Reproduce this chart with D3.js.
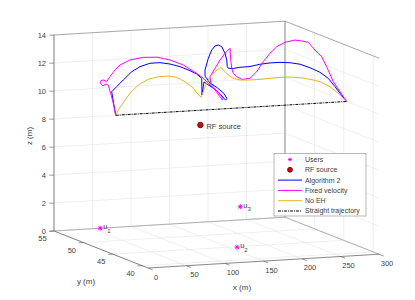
<!DOCTYPE html>
<html>
<head>
<meta charset="utf-8">
<script src="https://d3js.org/d3.v7.min.js"></script>
<style>
  body { margin: 0; background: #fff; }
  text { font-family: "Liberation Sans", Arial, sans-serif; fill: #404040; }
</style>
</head>
<body>
<svg width="415" height="300"></svg>
<script>
// axis ticks
const xTicks = [0, 50, 100, 150, 200, 250, 300];
const yTicks = [40, 45, 50, 55];
const zTicks = [0, 2, 4, 6, 8, 10, 12, 14];

// trajectories (y kept at 44.5 m)
const trajY = 44.5;
const algX = [0, -5.2, 1.3, 9.9, 20.8, 31.6, 44.6, 57.5, 70.5, 83.5, 96.5, 105.2, 111.7, 112.1, 114.7,
  122.5, 131.6, 138.1, 142.6, 144.6, 140.7, 131.6, 122.5, 116, 116, 120.3, 124.7, 129, 133.3, 137.7, 142,
  144.2, 145, 146.2, 152.7, 161.4, 174.4, 187.4, 200.4, 213.4, 226.4, 239.4, 252.3, 265.3, 276.1, 284.8, 291.3, 300];
const algZ = [10, 11.70, 12.04, 12.49, 13.04, 13.37, 13.57, 13.57, 13.43, 13.20, 12.87, 12.60, 12.27, 11.08, 12.0,
  11.69, 11.30, 10.92, 10.62, 10.72, 11.09, 11.55, 11.90, 12.42, 12.85, 13.68, 14.25, 14.53, 14.58, 14.45, 13.96,
  13.48, 12.99, 12.88, 12.84, 12.90, 12.91, 13.03, 13.08, 13.08, 13.01, 12.86, 12.57, 12.20, 11.73, 11.11, 10.61, 10];

const fixX = [0, -3.1, -6.5, -9.6, -12.6, -16.5, -19.7, -19.1, -15.2, -11.9, -7.4, -0.9, 5.6, 18.6, 35.9, 53.3,
  70.5, 87.8, 105.2, 113.8, 120.3, 129, 135.5, 138.5, 139.4, 132.2, 123.8, 122.5, 129, 135.5, 142, 146.2, 148.5,
  149.4, 150.7, 152.7, 157.2, 164, 174.4, 183.1, 191.7, 200.4, 209.1, 219.9, 232.9, 241.6, 250.1, 258.8, 267.5,
  274, 282.6, 291.3, 300];
const fixZ = [10, 10.87, 11.59, 12.19, 12.28, 12.15, 12.33, 12.55, 12.57, 12.42, 12.78, 13.24, 13.57, 13.89, 14.02, 13.97,
  13.72, 13.30, 12.65, 12.27, 11.89, 11.38, 10.88, 10.64, 10.78, 11.26, 11.79, 12.35, 12.93, 13.50, 13.96, 14.18, 14.30,
  13.46, 12.86, 12.50, 12.24, 12.02, 12.07, 12.51, 13.20, 13.77, 14.21, 14.49, 14.61, 14.51, 14.39, 13.81, 13.30,
  12.57, 11.47, 10.73, 10];

const noehX = [0, 3.4, 9.9, 18.6, 29.4, 42.4, 55.3, 68.3, 79.2, 90, 98.7, 105.2, 110.8, 118.2, 122.5, 129, 136.4,
  139.8, 146.2, 152.7, 161.4, 172.2, 187.4, 200.4, 213.4, 226.4, 239.4, 252.3, 265.3, 278.3, 289.1, 300];
const noehZ = [10, 10.37, 10.87, 11.51, 12.07, 12.43, 12.57, 12.58, 12.45, 12.10, 11.72, 11.27, 10.92, 11.90, 12.35, 12.69, 12.98,
  12.78, 12.40, 12.14, 11.99, 11.95, 11.95, 11.98, 12.01, 11.99, 11.90, 11.74, 11.53, 11.13, 10.62, 10];

const straightX = [0, 300];
const straightZ = [10, 10];

// users and RF source
const users = [
  { name: "1", x: 60, y: 55, z: 0 },
  { name: "2", x: 160, y: 44.8, z: 0 },
  { name: "3", x: 242, y: 55, z: 0.94 }
];
const rfSource = { x: 152, y: 50, z: 7.9 };

const legendItems = ["Users", "RF source", "Algorithm 2", "Fixed velocity", "No EH", "Straight trajectory"];

const svg = d3.select("svg");

// simple 3D -> screen projection built on linear scales
const xS = d3.scaleLinear().domain([0, 300]).range([0, 1]);
const yS = d3.scaleLinear().domain([39, 55]).range([0, 1]);
const zS = d3.scaleLinear().domain([0, 14]).range([0, 1]);
const O = [148, 268], EX = [231, -13.8], EY = [-94, -37], EZ = [0, -196];
function proj(x, y, z) {
  const a = xS(x), b = yS(y), c = zS(z);
  return [O[0] + a * EX[0] + b * EY[0] + c * EZ[0], O[1] + a * EX[1] + b * EY[1] + c * EZ[1]];
}
function seg(g, p, q, color, w) {
  const a = proj(...p), b = proj(...q);
  g.append("line").attr("x1", a[0]).attr("y1", a[1]).attr("x2", b[0]).attr("y2", b[1])
    .attr("stroke", color).attr("stroke-width", w);
}

// grid
const grid = svg.append("g");
const gc = "#e4e4e4";
xTicks.forEach(x => { seg(grid, [x, 55, 0], [x, 55, 14], gc, 0.6); seg(grid, [x, 39, 0], [x, 55, 0], gc, 0.6); });
zTicks.forEach(z => { seg(grid, [0, 55, z], [300, 55, z], gc, 0.6); seg(grid, [300, 39, z], [300, 55, z], gc, 0.6); });
yTicks.forEach(y => { seg(grid, [300, y, 0], [300, y, 14], gc, 0.6); seg(grid, [0, y, 0], [300, y, 0], gc, 0.6); });

// box
const box = svg.append("g");
seg(box, [0, 55, 0], [300, 55, 0], "#8a8a8a", 0.6);
seg(box, [300, 55, 0], [300, 39, 0], "#8a8a8a", 0.6);
seg(box, [0, 55, 14], [300, 55, 14], "#7a7a7a", 0.6);
seg(box, [300, 55, 14], [300, 39, 14], "#7a7a7a", 0.6);
seg(box, [300, 55, 0], [300, 55, 14], "#6a6a6a", 0.7);
seg(box, [0, 55, 0], [0, 55, 14], "#555", 0.7);
seg(box, [0, 39, 0], [0, 55, 0], "#555", 0.7);
seg(box, [0, 39, 0], [300, 39, 0], "#555", 0.7);

// ticks and labels
const fs = 7.5;
zTicks.forEach(z => {
  seg(box, [0, 55, z], [-6, 55, z], "#555", 0.6);
  const p = proj(0, 55, z);
  svg.append("text").attr("x", p[0] - 8).attr("y", p[1]).attr("dy", "0.35em")
    .attr("text-anchor", "end").attr("font-size", fs).text(z);
});
yTicks.forEach(y => {
  seg(box, [0, y, 0], [-6, y, 0], "#555", 0.6);
  const p = proj(0, y, 0);
  svg.append("text").attr("x", p[0] - 11.5).attr("y", p[1] + 7.5).attr("dy", "0.35em")
    .attr("text-anchor", "middle").attr("font-size", fs).text(y);
});
xTicks.forEach(x => {
  seg(box, [x, 39, 0], [x, 38.2, 0], "#555", 0.6);
  const p = proj(x, 39, 0);
  svg.append("text").attr("x", p[0] + 8).attr("y", p[1] + 9).attr("dy", "0.35em")
    .attr("text-anchor", "middle").attr("font-size", fs).text(x);
});
svg.append("text").attr("transform", "translate(29,136) rotate(-90)").attr("text-anchor", "middle")
  .attr("dy", "0.35em").attr("font-size", 8).text("z (m)");
svg.append("text").attr("x", 86).attr("y", 281).attr("text-anchor", "middle")
  .attr("dy", "0.35em").attr("font-size", 8).text("y (m)");
svg.append("text").attr("x", 242).attr("y", 287).attr("text-anchor", "middle")
  .attr("dy", "0.35em").attr("font-size", 8).text("x (m)");

// markers
function star(g, cx, cy, r) {
  const s = g.append("g").attr("stroke", "#ff00ff").attr("stroke-width", 1);
  s.append("line").attr("x1", cx - r).attr("y1", cy).attr("x2", cx + r).attr("y2", cy);
  s.append("line").attr("x1", cx).attr("y1", cy - r).attr("x2", cx).attr("y2", cy + r);
  const d = r * 0.72;
  s.append("line").attr("x1", cx - d).attr("y1", cy - d).attr("x2", cx + d).attr("y2", cy + d);
  s.append("line").attr("x1", cx - d).attr("y1", cy + d).attr("x2", cx + d).attr("y2", cy - d);
}
users.forEach(u => {
  const p = proj(u.x, u.y, u.z);
  star(svg, p[0], p[1], 2.4);
  const t = svg.append("text").attr("x", p[0] + 3).attr("y", p[1] + 1).attr("font-size", 7.5).attr("fill", "#222");
  t.append("tspan").text("u");
  t.append("tspan").attr("font-size", 6).attr("dy", 3.5).text(u.name);
});
const rp = proj(rfSource.x, rfSource.y, rfSource.z);
svg.append("circle").attr("cx", rp[0]).attr("cy", rp[1]).attr("r", 2.8)
  .attr("fill", "#e00000").attr("stroke", "#000").attr("stroke-width", 0.6);
svg.append("text").attr("x", rp[0] + 6).attr("y", rp[1] + 1.5).attr("dy", "0.35em")
  .attr("font-size", 7.5).attr("fill", "#222").text("RF source");

// trajectories
function path3(xs, zs, color, dash) {
  const pts = xs.map((x, i) => proj(x, trajY, zs[i]));
  svg.append("path").attr("d", d3.line()(pts)).attr("fill", "none")
    .attr("stroke", color).attr("stroke-width", 1).attr("stroke-linejoin", "round")
    .attr("stroke-dasharray", dash || null);
}
path3(algX, algZ, "#0000ff");
path3(fixX, fixZ, "#ff00ff");
path3(noehX, noehZ, "#edb120");
path3(straightX, straightZ, "#000", "3,1,1,1");

// legend
const lg = svg.append("g");
lg.append("rect").attr("x", 274).attr("y", 153.5).attr("width", 92).attr("height", 62.5)
  .attr("fill", "#fff").attr("stroke", "#8a8a8a").attr("stroke-width", 0.6);
const ly = d3.scalePoint().domain(legendItems).range([159.5, 211]);
const styles = [null, null, ["#0000ff"], ["#ff00ff"], ["#edb120"], ["#000", "3,1,1,1"]];
legendItems.forEach((name, i) => {
  const y = ly(name);
  if (i === 0) star(lg, 290, y, 1.8);
  else if (i === 1) lg.append("circle").attr("cx", 290).attr("cy", y).attr("r", 2.5)
    .attr("fill", "#e00000").attr("stroke", "#000").attr("stroke-width", 0.6);
  else lg.append("line").attr("x1", 278).attr("x2", 302).attr("y1", y).attr("y2", y)
    .attr("stroke", styles[i][0]).attr("stroke-width", 1).attr("stroke-dasharray", styles[i][1] || null);
  lg.append("text").attr("x", 305).attr("y", y).attr("dy", "0.35em").attr("font-size", 7)
    .attr("fill", "#222").text(name);
});
</script>
</body>
</html>
